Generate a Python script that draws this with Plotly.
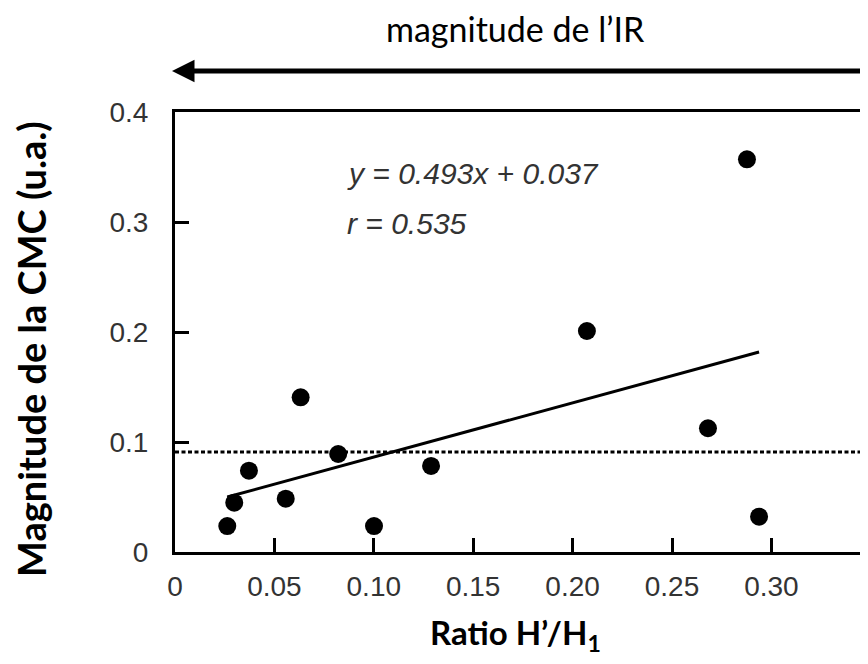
import plotly.graph_objects as go

# Values
ratio_h = [0.0263, 0.0298, 0.0372, 0.0557, 0.0632, 0.0821, 0.1001, 0.1288, 0.2072, 0.2681, 0.2877, 0.2938]
cmc_mag = [0.0236, 0.0448, 0.0739, 0.0485, 0.1406, 0.0891, 0.0236, 0.0782, 0.2009, 0.1125, 0.3570, 0.0321]

SLOPE, INTERCEPT, R = 0.493, 0.037, 0.535
THRESHOLD = 0.091

x_ticks = [0, 0.05, 0.10, 0.15, 0.20, 0.25, 0.30]
x_ticktext = ["0", "0.05", "0.10", "0.15", "0.20", "0.25", "0.30"]
y_ticks = [0, 0.1, 0.2, 0.3, 0.4]
y_ticktext = ["0", "0.1", "0.2", "0.3", "0.4"]

# the page body keeps its default 8px margin, so lay out in window pixels
# and shift everything by that offset
OFF = 8
WIN_W, WIN_H = 868, 664
W, H = WIN_W - OFF, WIN_H - OFF
AX_L, AX_T, AX_B = 175, 112, 552          # plot box edges in window pixels
L, T = AX_L - OFF, AX_T - OFF
B = H - (AX_B - OFF)
PX_PER_UNIT = 1988.0
x_max = (WIN_W - AX_L) / PX_PER_UNIT

def px(xw):
    return (xw - AX_L) / (WIN_W - AX_L)

def py(yw):
    return (AX_B - yw) / (AX_B - AX_T)

SANS = "Liberation Sans, Arial, sans-serif"
TICK_FONT = dict(family=SANS, size=28, color="#333333")
TITLE_FAMILY = "Lato, Carlito, Calibri, sans-serif"

fit_x = [min(ratio_h), max(ratio_h)]
fit_y = [SLOPE * v + INTERCEPT for v in fit_x]

fig = go.Figure()
fig.add_trace(go.Scatter(x=fit_x, y=fit_y, mode="lines",
                         line=dict(color="black", width=3), hoverinfo="skip"))
fig.add_trace(go.Scatter(x=ratio_h, y=cmc_mag, mode="markers",
                         marker=dict(size=18, color="black")))
fig.add_hline(y=THRESHOLD, line=dict(color="black", width=3, dash="4px,2.5px"))

fig.update_layout(
    width=W, height=H, showlegend=False,
    margin=dict(l=L, r=0, t=T, b=B, pad=0),
    paper_bgcolor="white", plot_bgcolor="white",
)
axis = dict(showgrid=False, zeroline=False, showline=True, linewidth=3, linecolor="black",
            ticks="inside", ticklen=14, tickwidth=2.5, tickcolor="black",
            tickfont=TICK_FONT)
fig.update_xaxes(range=[0, x_max], tickvals=x_ticks, ticktext=x_ticktext,
                 mirror=True, ticklabelstandoff=7, **axis)
fig.update_yaxes(range=[0, 0.4], tickvals=y_ticks, ticktext=y_ticktext,
                 ticklabelstandoff=18, **axis)

# equation + correlation
fig.add_annotation(xref="paper", yref="paper", x=px(345), y=py(173), xanchor="left", yanchor="middle",
                   text=f"<i>y = {SLOPE}x + {INTERCEPT}</i>", showarrow=False,
                   font=dict(family=SANS, size=30, color="#333333"))
fig.add_annotation(xref="paper", yref="paper", x=px(345), y=py(223), xanchor="left", yanchor="middle",
                   text=f"<i>r = {R}</i>", showarrow=False,
                   font=dict(family=SANS, size=30, color="#333333"))

# axis titles
fig.add_annotation(xref="paper", yref="paper", x=px(31), y=py(349), xanchor="center", yanchor="middle",
                   text="<b>Magnitude de la CMC (u.a.)</b>", textangle=-90, showarrow=False,
                   font=dict(family=TITLE_FAMILY, size=38, color="black"))
fig.add_annotation(xref="paper", yref="paper", x=px(515), y=py(634), xanchor="center", yanchor="middle",
                   text="<b>Ratio H’/H<sub>1</sub></b>", showarrow=False,
                   font=dict(family=TITLE_FAMILY, size=33, color="black"))

# top label and arrow
fig.add_annotation(xref="paper", yref="paper", x=px(515), y=py(29), xanchor="center", yanchor="middle",
                   text="magnitude de l’IR", showarrow=False,
                   font=dict(family=TITLE_FAMILY, size=34, color="black"))
fig.add_annotation(xref="paper", yref="paper", x=px(172), y=py(71), text="",
                   showarrow=True, ax=720, ay=0, arrowhead=2, arrowsize=0.9,
                   arrowwidth=5, arrowcolor="black", standoff=0)

fig.write_html("out.html")
